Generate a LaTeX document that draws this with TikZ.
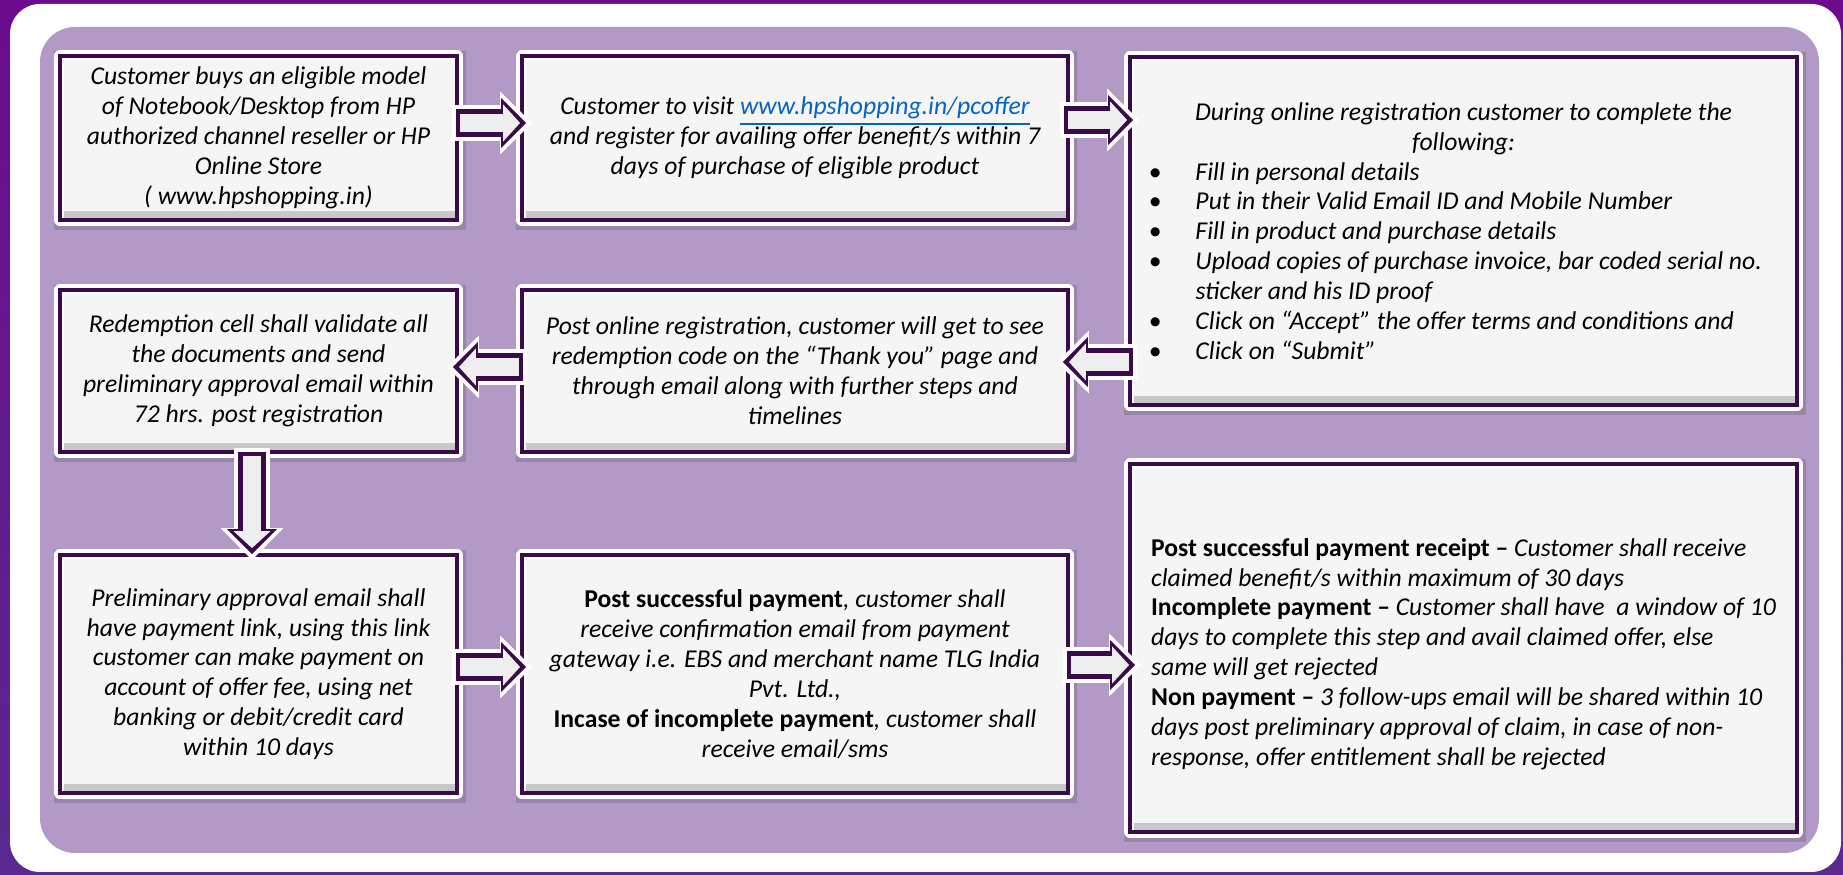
\documentclass[tikz,border=0pt]{standalone}
\usepackage{fontspec}
\setmainfont{Carlito}
\usetikzlibrary{arrows.meta,calc,shadows}

\definecolor{bgpurple}{HTML}{6C0B8D}
\definecolor{bgpurpledark}{HTML}{5A2A90}
\definecolor{panel}{HTML}{B39AC6}
\definecolor{framepurple}{HTML}{3A0A4A}
\definecolor{cardfill}{HTML}{F5F5F5}
\definecolor{arrowfill}{HTML}{EEEEEE}
\definecolor{linkblue}{HTML}{0563C1}

\newcommand\hd[1]{\textup{\bfseries #1}}
\newcommand\bul{\makebox[0.47cm][l]{\textbullet}}
\newcommand\weblink[1]{\textcolor{linkblue}{\underline{#1}}}

\tikzset{
  card/.style={draw=framepurple, line width=1.1pt, fill=cardfill, outer sep=0pt, inner sep=2pt,
    drop shadow={draw=black, line width=4.4pt, opacity=0.14, shadow xshift=0.4pt, shadow yshift=-0.7pt},
    preaction={draw=white, line width=3.4pt, line join=round},
    path picture={
      \shade[top color=cardfill, bottom color=black!22]
        ([yshift=2.4pt]path picture bounding box.south west) rectangle (path picture bounding box.south east);
      \fill[white] (path picture bounding box.north west) rectangle ([xshift=1.2pt]path picture bounding box.south west);
      \fill[white] (path picture bounding box.north west) rectangle ([yshift=-1.2pt]path picture bounding box.north east);
    },
    font=\fontsize{7.3}{8.5}\selectfont\itshape, align=center},
  flow/.style={draw=white, line width=10.5pt, -{Triangle[length=9.1pt, width=17.9pt, line width=0pt]},
    postaction={draw=framepurple, line width=7.7pt, shorten >=1.7pt, shorten <=1.2pt,
      -{Triangle[length=7.1pt, width=14.2pt, line width=0pt]}},
    postaction={draw=arrowfill, line width=5.1pt, shorten >=3.4pt, shorten <=2.3pt,
      -{Triangle[length=4.8pt, width=10.5pt, line width=0pt]}}}
}

\begin{document}
\begin{tikzpicture}[x=0.1mm, y=-0.1mm]
  \useasboundingbox (0,0) rectangle (1843,875);
  \shade[top color=bgpurple, bottom color=bgpurpledark] (0,0) rectangle (1843,875);
  \fill[white, rounded corners=0.3cm] (10,4) rectangle (1841,872);
  \fill[panel, rounded corners=0.35cm] (40,27) rectangle (1819,853);

  \node[card, minimum width=3.97cm, minimum height=1.64cm] (buy) at (258.5,138)
    {Customer buys an eligible model\\ of Notebook/Desktop from HP\\ authorized channel reseller or HP\\ Online Store\\ ( www.hpshopping.in)};
  \node[card, minimum width=5.46cm, minimum height=1.64cm] (visit) at (795,138)
    {Customer to visit \weblink{www.hpshopping.in/pcoffer}\\ and register for availing offer benefit/s within 7\\ days of purchase of eligible product};
  \node[card, minimum width=6.67cm, minimum height=3.48cm, align=left] (regform) at (1463.5,231)
    {\makebox[6.3cm]{During online registration customer to complete the}\\
     \makebox[6.3cm]{following:}\\
     \bul Fill in personal details\\
     \bul Put in their Valid Email ID and Mobile Number\\
     \bul Fill in product and purchase details\\
     \bul Upload copies of purchase invoice, bar coded serial no.\\
     \hspace*{0.47cm}sticker and his ID proof\\
     \bul Click on “Accept” the offer terms and conditions and\\
     \bul Click on “Submit”};
  \node[card, minimum width=3.97cm, minimum height=1.62cm] (validate) at (258.5,371)
    {Redemption cell shall validate all\\ the documents and send\\ preliminary approval email within\\ 72 hrs. post registration};
  \node[card, minimum width=5.46cm, minimum height=1.62cm] (thanks) at (795,371)
    {Post online registration, customer will get to see\\ redemption code on the “Thank you” page and\\ through email along with further steps and\\ timelines};
  \node[card, minimum width=3.97cm, minimum height=2.38cm] (approval) at (258.5,674)
    {Preliminary approval email shall\\ have payment link, using this link\\ customer can make payment on\\ account of offer fee, using net\\ banking or debit/credit card\\ within 10 days};
  \node[card, minimum width=5.46cm, minimum height=2.38cm] (payment) at (795,674)
    {\hd{Post successful payment}, customer shall\\ receive confirmation email from payment\\ gateway i.e. EBS and merchant name TLG India\\ Pvt. Ltd.,\\ \hd{Incase of incomplete payment}, customer shall\\ receive email/sms};
  \node[card, minimum width=6.67cm, minimum height=3.68cm, align=left] (outcome) at (1463.5,648)
    {\mbox{}\\
     \hd{Post successful payment receipt –} Customer shall receive\\
     claimed benefit/s within maximum of 30 days\\
     \hd{Incomplete payment –} Customer shall have\ \ a window of 10\\
     days to complete this step and avail claimed offer, else\\
     same will get rejected\\
     \hd{Non payment –} 3 follow-ups email will be shared within 10\\
     days post preliminary approval of claim, in case of non-\\
     response, offer entitlement shall be rejected};

  \draw[flow] ($(buy.east |- 0,123)+(-5,0)$) -- ($(visit.west |- 0,123)+(10,0)$);
  \draw[flow] ($(visit.east |- 0,120)+(-8,0)$) -- ($(regform.west |- 0,120)+(9,0)$);
  \draw[flow] ($(regform.west |- 0,362)+(7,0)$) -- ($(thanks.east |- 0,362)+(-11,0)$);
  \draw[flow] ($(thanks.west |- 0,367)+(5,0)$) -- ($(validate.east |- 0,367)+(-10,0)$);
  \draw[flow] ($(validate.south -| 252,0)+(0,-4)$) -- ($(approval.north -| 252,0)+(0,5)$);
  \draw[flow] ($(approval.east |- 0,667)+(-5,0)$) -- ($(payment.west |- 0,667)+(10,0)$);
  \draw[flow] ($(payment.east |- 0,665)+(-5,0)$) -- ($(outcome.west |- 0,665)+(11,0)$);
\end{tikzpicture}
\end{document}
